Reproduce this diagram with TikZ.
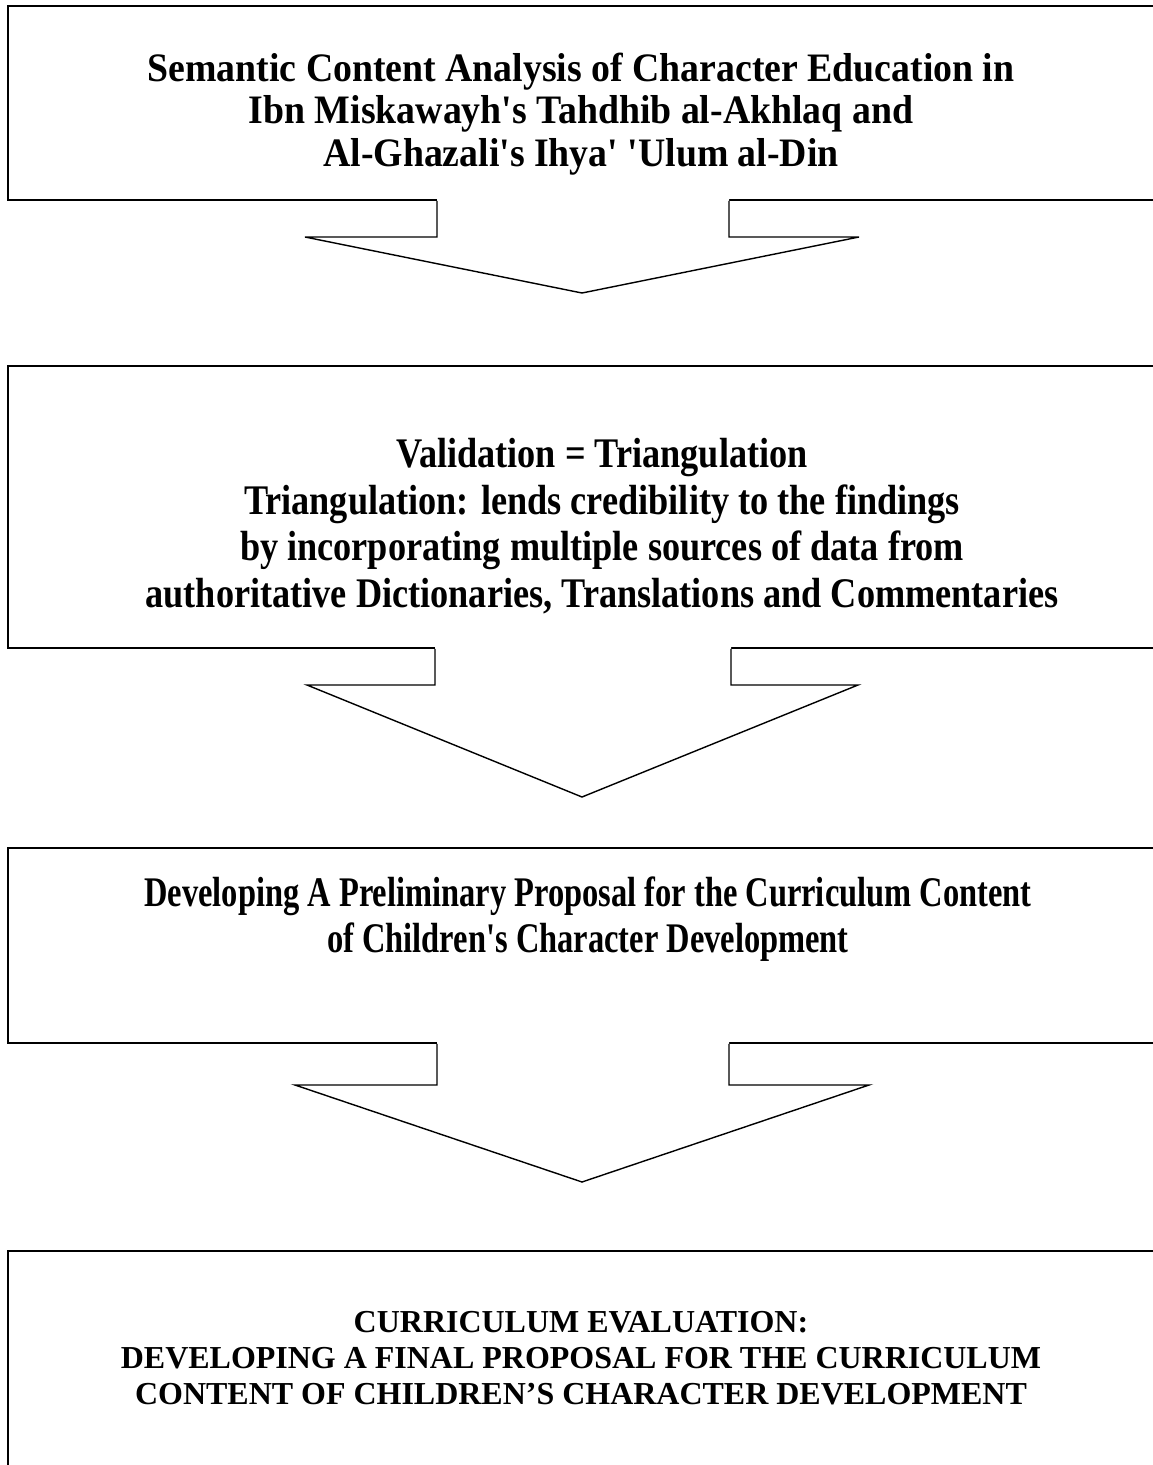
\documentclass[tikz,border=0pt]{standalone}
\usepackage{fontspec}
\setmainfont{Liberation Serif}
\newfontfamily\serifA[FakeStretch=0.935]{Liberation Serif}
\newfontfamily\serifB[FakeStretch=0.86]{Liberation Serif}
\newfontfamily\serifC[FakeStretch=0.77]{Liberation Serif}
\begin{document}
\begin{tikzpicture}[x=0.02cm,y=-0.02cm,
  box/.style={draw, line width=1.1pt, anchor=north west, inner sep=0pt, minimum width=23.2cm},
  label/.style={anchor=north, align=center, inner sep=0pt},
  arrowline/.style={draw, line width=0.8pt, line join=miter}
]
\useasboundingbox (0,0) rectangle (1153,1465);

% stage boxes (they run off the right edge of the page)
\node[box, minimum height=3.88cm] (b1) at (7,5) {};
\node[box, minimum height=5.64cm] (b2) at (7,365) {};
\node[box, minimum height=3.90cm] (b3) at (7,847) {};
\node[box, minimum height=4.80cm] (b4) at (7,1250) {};

% box texts
\node[label, font=\serifA\bfseries\fontsize{23}{24}\selectfont] (t1) at (581,53)
  {Semantic Content Analysis of Character Education in\\
   Ibn Miskawayh's Tahdhib al-Akhlaq and\\
   Al-Ghazali's Ihya' 'Ulum al-Din};
\node[label, font=\serifB\bfseries\fontsize{24}{26.5}\selectfont] (t2) at (602,438)
  {Validation = Triangulation\\
   Triangulation: lends credibility to the findings\\
   by incorporating multiple sources of data from\\
   authoritative Dictionaries, Translations and Commentaries};
\node[label, font=\serifC\bfseries\fontsize{24}{26.6}\selectfont] (t3) at (588,876)
  {Developing A Preliminary Proposal for the Curriculum Content\\
   of Children's Character Development};
\node[label, font=\bfseries\fontsize{18.2}{20.4}\selectfont] (t4) at (581,1311)
  {CURRICULUM EVALUATION:\\
   DEVELOPING A FINAL PROPOSAL FOR THE CURRICULUM\\
   CONTENT OF CHILDREN’S CHARACTER DEVELOPMENT};

% block arrows joining consecutive boxes
\fill[white] (437,197) -- (437,237) -- (305,237) -- (582,293) -- (859,237) -- (729,237) -- (729,197) -- cycle;
\draw[arrowline] (b1.south -| 437,0) -- (437,237) -- (305,237) -- (582,293) -- (859,237) -- (729,237) -- (b1.south -| 729,0);

\fill[white] (435,645) -- (435,685) -- (307,685) -- (582,797) -- (858,685) -- (731,685) -- (731,645) -- cycle;
\draw[arrowline] (b2.south -| 435,0) -- (435,685) -- (307,685) -- (582,797) -- (858,685) -- (731,685) -- (b2.south -| 731,0);

\fill[white] (437,1040) -- (437,1085) -- (295,1085) -- (582,1182) -- (869,1085) -- (729,1085) -- (729,1040) -- cycle;
\draw[arrowline] (b3.south -| 437,0) -- (437,1085) -- (295,1085) -- (582,1182) -- (869,1085) -- (729,1085) -- (b3.south -| 729,0);
\end{tikzpicture}
\end{document}
